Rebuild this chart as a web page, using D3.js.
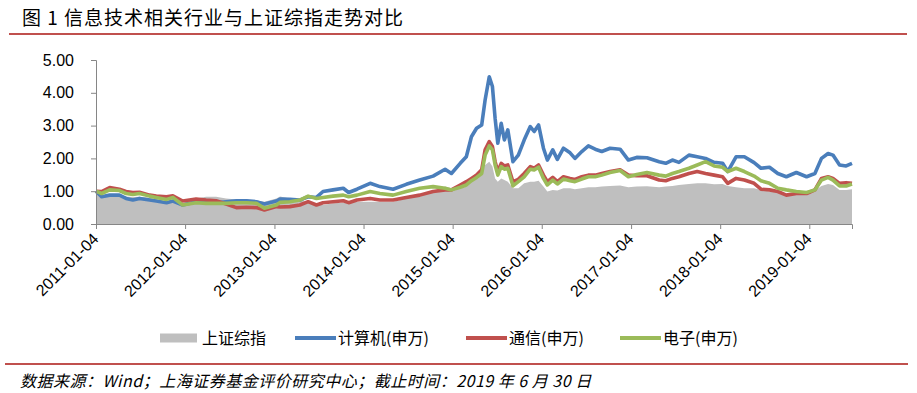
<!DOCTYPE html>
<html>
<head>
<meta charset="utf-8">
<script src="https://cdn.jsdelivr.net/npm/d3@7/dist/d3.min.js"></script>
<style>
  body { margin: 0; background: #fff; }
  svg { display: block; }
  .axis path, .axis line { stroke: #868686; }
  .axis text { font-family: "Liberation Sans", Arial, sans-serif; font-size: 16px; fill: #000; }
  .cjk { font-family: "Noto Sans CJK SC", sans-serif; }
</style>
</head>
<body>
<svg id="chart" width="917" height="393"></svg>
<script>
// series names, legend order
var seriesNames = ["上证综指", "计算机(申万)", "通信(申万)", "电子(申万)"];

// sample dates (roughly monthly, denser around 2015)
var dates = [
  "2011-01-04","2011-01-27","2011-03-01","2011-04-10","2011-05-07","2011-06-04","2011-07-01","2011-08-12",
  "2011-09-08","2011-10-20","2011-11-15","2011-12-25","2012-02-18","2012-03-30","2012-05-10","2012-06-20",
  "2012-08-01","2012-09-12","2012-10-22","2012-11-24","2013-01-12","2013-01-27","2013-03-08","2013-04-18",
  "2013-05-22","2013-06-25","2013-07-22","2013-09-01","2013-10-13","2013-11-04","2013-12-08","2014-01-31",
  "2014-03-12","2014-05-05","2014-06-28","2014-08-22","2014-10-16","2014-12-04","2014-12-30","2015-02-04",
  "2015-03-01","2015-03-22","2015-04-12","2015-05-03","2015-05-17","2015-06-03","2015-06-16","2015-06-27",
  "2015-07-08","2015-07-22","2015-08-04","2015-08-18","2015-09-08","2015-09-30","2015-10-24","2015-11-18",
  "2015-12-04","2015-12-22","2016-01-11","2016-01-27","2016-02-18","2016-03-08","2016-04-02","2016-04-29",
  "2016-05-19","2016-06-16","2016-07-13","2016-08-10","2016-09-06","2016-10-10","2016-11-20","2016-12-24",
  "2017-01-27","2017-03-10","2017-04-29","2017-05-26","2017-06-22","2017-07-19","2017-08-29","2017-10-02",
  "2017-11-05","2017-12-10","2018-01-14","2018-02-04","2018-03-10","2018-04-13","2018-05-23","2018-06-20",
  "2018-07-25","2018-08-28","2018-10-02","2018-11-12","2018-12-24","2019-01-27","2019-02-23","2019-03-22",
  "2019-04-11","2019-05-08","2019-06-04","2019-06-28"
];

var szIndex = [
  1.00,0.88,0.88,0.87,0.84,0.82,0.83,0.80, 0.76,0.68,0.72,0.63,0.78,0.83,0.83,0.78,
  0.75,0.74,0.72,0.68,0.78,0.84,0.78,0.73, 0.65,0.58,0.58,0.63,0.65,0.65,0.68,0.68,
  0.68,0.68,0.78,0.88,0.99,1.14,1.09,1.08, 1.14,1.34,1.49,1.60,1.80,1.90,1.75,1.39,
  1.29,1.39,1.34,1.29,1.09,1.09,1.24,1.29, 1.29,1.32,1.14,0.99,1.04,1.02,1.09,1.09,
  1.06,1.09,1.12,1.12,1.14,1.16,1.17,1.12, 1.14,1.15,1.12,1.14,1.16,1.19,1.22,1.24,
  1.24,1.21,1.22,1.16,1.12,1.09,1.09,1.04, 0.99,0.96,0.93,0.93,0.91,1.02,1.16,1.22,
  1.19,1.04,1.04,1.06
];

var computer = [
  1.00,0.83,0.88,0.88,0.78,0.73,0.78,0.73, 0.70,0.65,0.70,0.58,0.68,0.68,0.65,0.68,
  0.71,0.71,0.68,0.61,0.70,0.76,0.75,0.73, 0.83,0.81,0.99,1.04,1.09,0.96,1.06,1.24,
  1.14,1.06,1.21,1.34,1.46,1.67,1.54,1.85, 2.05,2.66,2.92,3.02,3.78,4.49,4.19,3.22,
  2.46,3.07,2.56,2.87,1.90,2.10,2.56,2.97, 2.82,3.02,2.31,1.95,2.26,1.97,2.31,2.17,
  2.00,2.21,2.38,2.28,2.21,2.31,2.28,1.95, 2.03,2.02,1.90,1.85,1.95,1.88,2.10,2.05,
  2.00,1.88,1.85,1.60,2.05,2.05,1.87,1.70, 1.73,1.54,1.44,1.57,1.44,1.54,2.00,2.15,
  2.10,1.80,1.77,1.85
];

var telecom = [
  1.00,0.99,1.11,1.06,0.99,0.96,0.97,0.88, 0.85,0.83,0.86,0.70,0.76,0.73,0.71,0.61,
  0.50,0.51,0.50,0.43,0.53,0.52,0.53,0.58, 0.68,0.58,0.65,0.68,0.71,0.65,0.73,0.78,
  0.73,0.73,0.81,0.88,0.99,1.04,1.04,1.19, 1.29,1.39,1.49,1.65,2.26,2.51,2.36,1.90,
  1.60,1.85,1.77,1.80,1.29,1.36,1.54,1.75, 1.70,1.80,1.49,1.29,1.42,1.29,1.44,1.39,
  1.36,1.44,1.49,1.49,1.54,1.60,1.65,1.49, 1.47,1.47,1.34,1.32,1.39,1.44,1.54,1.60,
  1.54,1.49,1.44,1.24,1.39,1.34,1.24,1.06, 1.04,0.99,0.88,0.93,0.93,1.04,1.39,1.44,
  1.39,1.24,1.26,1.24
];

var electronics = [
  1.00,0.93,1.04,1.02,0.93,0.90,0.93,0.85, 0.81,0.75,0.81,0.58,0.65,0.63,0.63,0.63,
  0.65,0.65,0.63,0.48,0.58,0.66,0.68,0.73, 0.85,0.78,0.81,0.85,0.88,0.83,0.88,0.99,
  0.93,0.88,0.99,1.09,1.14,1.09,1.04,1.12, 1.19,1.32,1.42,1.54,2.10,2.38,2.26,1.80,
  1.49,1.75,1.67,1.70,1.16,1.29,1.44,1.67, 1.65,1.73,1.39,1.19,1.34,1.22,1.37,1.32,
  1.29,1.37,1.44,1.44,1.49,1.57,1.63,1.44, 1.51,1.57,1.49,1.46,1.54,1.60,1.70,1.80,
  1.90,1.77,1.73,1.60,1.70,1.60,1.46,1.32, 1.24,1.09,1.04,0.99,0.96,1.04,1.34,1.42,
  1.34,1.16,1.16,1.22
];

var yTicks = [0, 1, 2, 3, 4, 5];
var xTickLabels = ["2011-01-04","2012-01-04","2013-01-04","2014-01-04","2015-01-04",
                   "2016-01-04","2017-01-04","2018-01-04","2019-01-04"];

var colors = ["#bfbfbf", "#4a7ebb", "#c0504d", "#9bbb59"];

var parse = d3.timeParse("%Y-%m-%d");
var rows = dates.map(function(d, i) {
  return {date: parse(d), sz: szIndex[i], comp: computer[i], tel: telecom[i], ele: electronics[i]};
});

var svg = d3.select("#chart");

var x = d3.scaleTime()
  .domain([parse("2011-01-04"), parse("2019-06-28")])
  .range([96, 852]);

var y = d3.scaleLinear()
  .domain([0, 5])
  .range([224, 60]);

// title + red rule
svg.append("text")
  .attr("class", "cjk")
  .attr("x", 22).attr("y", 25)
  .style("font-size", "19px")
  .style("letter-spacing", "1px")
  .text("图 1  信息技术相关行业与上证综指走势对比");

svg.append("line")
  .attr("x1", 9).attr("x2", 907).attr("y1", 34).attr("y2", 34)
  .style("stroke", "#c0504d").style("stroke-width", 2);

// Shanghai composite as grey area
var area = d3.area()
  .x(function(d) { return x(d.date); })
  .y0(y(0))
  .y1(function(d) { return y(d.sz); });

svg.append("path")
  .datum(rows)
  .attr("d", area)
  .style("fill", colors[0]);

// industry lines, drawn blue -> red -> green
var keys = ["comp", "tel", "ele"];
keys.forEach(function(k, i) {
  var line = d3.line()
    .x(function(d) { return x(d.date); })
    .y(function(d) { return y(d[k]); });
  svg.append("path")
    .datum(rows)
    .attr("d", line)
    .style("fill", "none")
    .style("stroke", colors[i + 1])
    .style("stroke-width", 3.6)
    .style("stroke-linejoin", "round");
});

// axes
svg.append("g")
  .attr("class", "axis")
  .attr("transform", "translate(96,0)")
  .call(d3.axisLeft(y).tickValues(yTicks).tickSize(5).tickPadding(17).tickFormat(d3.format(".2f")));

var xAxis = svg.append("g")
  .attr("class", "axis")
  .attr("transform", "translate(0,224)")
  .call(d3.axisBottom(x).tickValues(xTickLabels.map(parse)).tickSize(5).tickFormat(d3.timeFormat("%Y-%m-%d")));

xAxis.selectAll("text")
  .attr("x", 0).attr("y", 0).attr("dy", 0)
  .attr("text-anchor", "end")
  .attr("transform", "translate(3,16) rotate(-45)");

// legend
var legendX = [160, 295, 466, 620];
var legend = svg.append("g").attr("transform", "translate(0,338)");
seriesNames.forEach(function(name, i) {
  var g = legend.append("g").attr("transform", "translate(" + legendX[i] + ",0)");
  if (i == 0) {
    g.append("rect").attr("x", 0).attr("y", -4.5).attr("width", 37).attr("height", 9).style("fill", colors[0]);
  } else {
    g.append("line").attr("x1", 0).attr("x2", 41).attr("y1", 0).attr("y2", 0)
      .style("stroke", colors[i]).style("stroke-width", 3.8);
  }
  g.append("text")
    .attr("class", "cjk")
    .attr("x", i == 0 ? 42 : 43).attr("y", 0).attr("dy", "0.35em")
    .style("font-size", "16px")
    .text(name);
});

// source note
svg.append("line")
  .attr("x1", 5).attr("x2", 908).attr("y1", 364).attr("y2", 364)
  .style("stroke", "#c0504d").style("stroke-width", 2);

svg.append("text")
  .attr("class", "cjk")
  .attr("x", 20).attr("y", 387)
  .style("font-size", "16px")
  .style("font-style", "italic")
  .style("letter-spacing", "0.5px")
  .text("数据来源：Wind；上海证券基金评价研究中心；截止时间：2019 年 6 月 30 日");
</script>
</body>
</html>
